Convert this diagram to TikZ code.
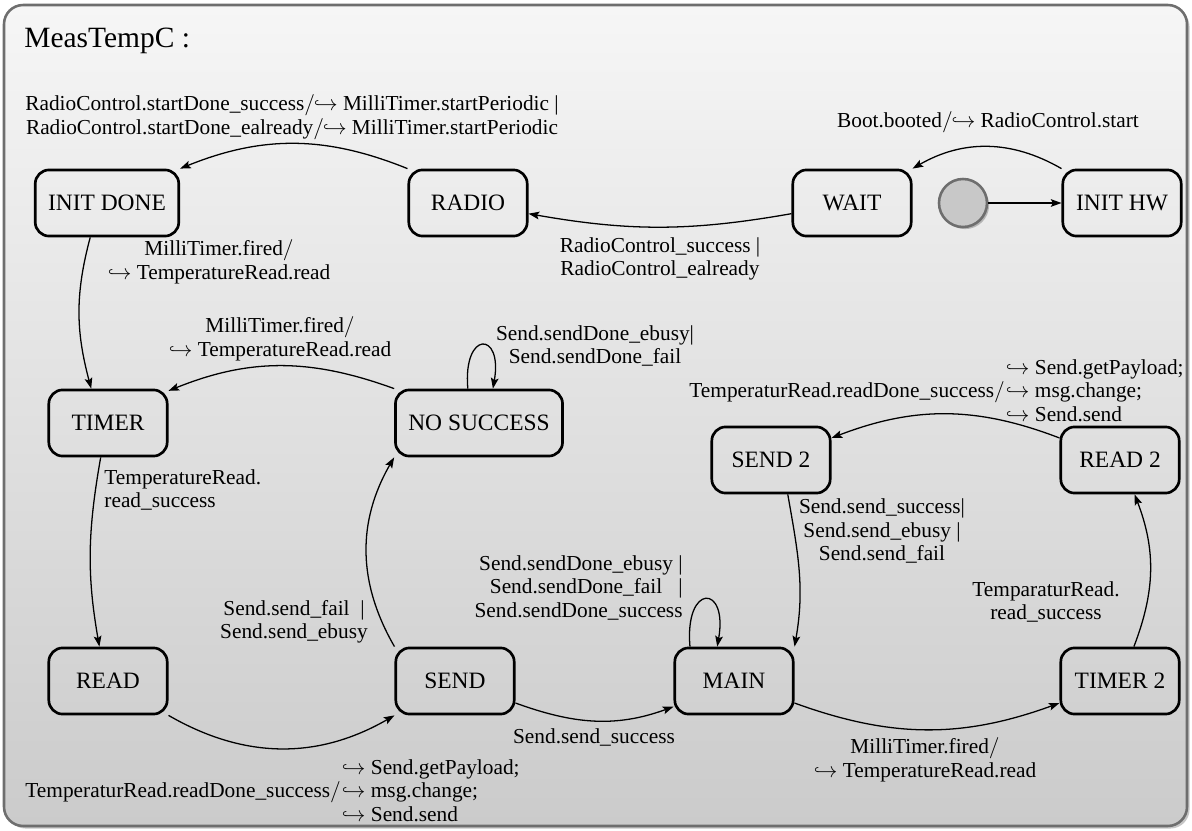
\documentclass[tikz,border=0pt]{standalone}
\usepackage{fontspec}
\setmainfont{Liberation Serif}
\usetikzlibrary{arrows.meta,shadows}
\definecolor{framegray}{HTML}{6E6E6E}
\definecolor{bgtop}{HTML}{F6F6F6}
\definecolor{bgbot}{HTML}{CBCBCB}
\definecolor{circfill}{HTML}{C8C8C8}
\newcommand{\hk}{$\hookrightarrow$}
\newcommand{\sla}{$/$\kern-0.5pt}
\begin{document}
\begin{tikzpicture}[x=0.4688pt,y=0.4688pt,
  state/.style={draw, line width=1.25pt, rounded corners=6.5pt, minimum width=55.5pt,
    minimum height=31pt, inner xsep=6pt, font=\fontsize{11}{13}\selectfont},
  arr/.style={-{Stealth[length=5pt,width=3.6pt,inset=1pt]}, line width=0.6pt},
  lbl/.style={font=\fontsize{10}{11}\selectfont, align=center, inner sep=0pt},
]
\useasboundingbox (0,0) rectangle (1192,830);
\path[draw=framegray, line width=1.2pt, rounded corners=9pt, top color=bgtop, bottom color=bgbot,
  drop shadow={opacity=0.45, shadow xshift=1.2pt, shadow yshift=-1.2pt}] (4,4) rectangle (1187,825);

\node[anchor=base west, inner sep=0pt, font=\fontsize{13.8}{16}\selectfont] (title) at (24,782) {MeasTempC :};

% states
\node[state] (initdone) at (107,627) {INIT DONE};
\node[state] (radio) at (468,627) {RADIO};
\node[state] (wait) at (852,627) {WAIT};
\node[circle, draw=framegray, fill=circfill, line width=1.2pt, minimum size=22.5pt, inner sep=0pt,
  drop shadow={opacity=0.5, shadow xshift=1pt, shadow yshift=-1pt}] (init) at (963,627) {};
\node[state] (inithw) at (1122,627) {INIT HW};
\node[state] (timer) at (108,407) {TIMER};
\node[state] (nosuccess) at (479,407) {NO SUCCESS};
\node[state] (send2) at (771,370) {SEND 2};
\node[state] (read2) at (1120,370) {READ 2};
\node[state] (read) at (108,149) {READ};
\node[state] (send) at (455,149) {SEND};
\node[state] (main) at (734,149) {MAIN};
\node[state] (timer2) at (1120,149) {TIMER 2};

% transitions
\draw[arr] (init) -- (inithw);
\draw[arr] (inithw.north west) to[out=150,in=30] (wait.north east);
\draw[arr] (wait.190) to[out=190,in=-10] (radio.-10);
\draw[arr] (radio.north west) to[out=158,in=22] (initdone.north east);
\draw[arr] (initdone.244) to[out=255,in=105] (timer.116);
\draw[arr] (nosuccess.north west) to[out=160,in=22] (timer.28);
\draw[arr] (nosuccess.108) to[out=95,in=80,looseness=6] (nosuccess.68);
\draw[arr] (timer.258) to[out=260,in=100] (read.104);
\draw[arr] (read.south east) to[out=-30,in=210] (send.south west);
\draw[arr] (send.north west) to[out=120,in=240] (nosuccess.south west);
\draw[arr] (send.-20) to[out=-20,in=200] (main.203);
\draw[arr] (main.142) to[out=95,in=80,looseness=6] (main.116);
\draw[arr] (main.-20) to[out=-20,in=200] (timer2.200);
\draw[arr] (timer2.68) to[out=69,in=291] (read2.-67);
\draw[arr] (read2.160) to[out=159,in=21] (send2.20);
\draw[arr] (send2.296) to[out=280,in=80] (main.north east);

% labels
\node[lbl] (l1) at (292,713) {RadioControl.startDone\_success\sla\hk{} MilliTimer.startPeriodic |\\
  RadioControl.startDone\_ealready\sla\hk{} MilliTimer.startPeriodic};
\node[lbl] (l2) at (988,708) {Boot.booted\sla\hk{} RadioControl.start};
\node[lbl] (l3) at (660,571) {RadioControl\_success |\\ RadioControl\_ealready};
\node[lbl] (l4) at (219,568) {MilliTimer.fired$/$\\ \hk{} TemperatureRead.read};
\node[lbl] (l5) at (280,491) {MilliTimer.fired$/$\\ \hk{} TemperatureRead.read};
\node[lbl] (l6) at (595,484) {Send.sendDone\_ebusy|\\ Send.sendDone\_fail};
\node[lbl, anchor=west] (l7) at (689,437) {\begin{tabular}{@{}r@{\hspace{0.5pt}}l@{}}
  & \hk{} Send.getPayload;\\
  TemperaturRead.readDone\_success$/$ & \hk{} msg.change;\\
  & \hk{} Send.send\end{tabular}};
\node[lbl] (l8) at (882,299) {Send.send\_success|\\ Send.send\_ebusy |\\ Send.send\_fail};
\node[lbl, anchor=west, align=left] (l9) at (104,340) {TemperatureRead.\\ read\_success};
\node[lbl] (l10) at (294,208) {Send.send\_fail\ \ |\\ Send.send\_ebusy};
\node[lbl, anchor=east] (l11) at (683,241) {\begin{tabular}{@{}r@{}}Send.sendDone\_ebusy |\\
  Send.sendDone\_fail\ \ \ |\\ Send.sendDone\_success\end{tabular}};
\node[lbl] (l12) at (1046,228) {TemparaturRead.\\ read\_success};
\node[lbl] (l13) at (594,93) {Send.send\_success};
\node[lbl] (l14) at (925,70) {MilliTimer.fired$/$\\ \hk{} TemperatureRead.read};
\node[lbl, anchor=west] (l15) at (25,37) {\begin{tabular}{@{}r@{\hspace{0.5pt}}l@{}}
  & \hk{} Send.getPayload;\\
  TemperaturRead.readDone\_success$/$ & \hk{} msg.change;\\
  & \hk{} Send.send\end{tabular}};
\end{tikzpicture}
\end{document}
